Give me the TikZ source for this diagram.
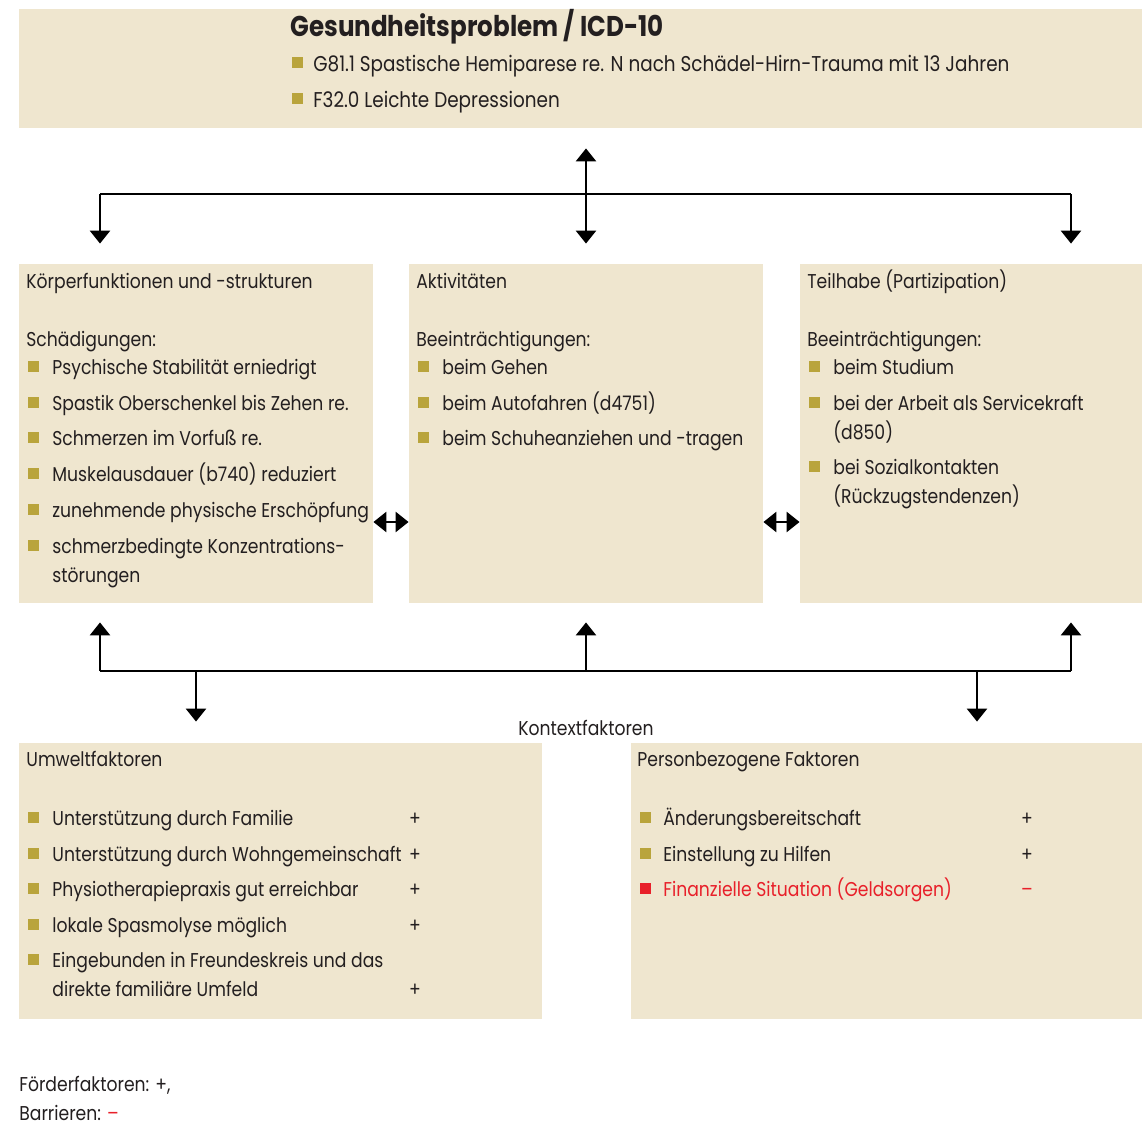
\documentclass[tikz,border=0pt]{standalone}
\usepackage{fontspec}
\setmainfont[FakeStretch=0.86]{Poppins}
\usetikzlibrary{arrows.meta}

\definecolor{boxbg}{HTML}{EFE6CF}
\definecolor{bulcol}{HTML}{B9A43C}
\definecolor{barred}{HTML}{E8202A}
\definecolor{txtcol}{HTML}{231F20}

\tikzset{
  box/.style={fill=boxbg, inner sep=0pt},
  txt/.style={anchor=base west, inner sep=0pt, text=txtcol, font=\fontsize{10}{12}\selectfont},
  bigtxt/.style={txt, font=\fontsize{10.7}{13}\selectfont},
  bsq/.style={fill=bulcol, minimum size=5.5pt, inner sep=0pt, anchor=south west},
  sign/.style={anchor=base, inner sep=0pt, text=txtcol, font=\fontsize{10}{12}\selectfont},
  arr/.style={line width=1.3pt, -{Triangle[width=10pt,length=6.5pt]}},
  arrb/.style={line width=1.3pt, {Triangle[width=10pt,length=6.5pt]}-{Triangle[width=10pt,length=6.5pt]}},
}

\begin{document}
\begin{tikzpicture}[x=0.5pt, y=-0.5pt]

\useasboundingbox (0,0) rectangle (1142,1124);

	% boxes
	\node[box, minimum width=561.5pt, minimum height=59.5pt] (gp) at (580.5,68.5) {};
	\node[box, minimum width=177pt, minimum height=169.5pt] (kf) at (196,433.5) {};
	\node[box, minimum width=177pt, minimum height=169.5pt] (akt) at (586,433.5) {};
	\node[box, minimum width=171pt, minimum height=169.5pt] (th) at (971,433.5) {};
	\node[box, minimum width=261.5pt, minimum height=138pt] (uf) at (280.5,881) {};
	\node[box, minimum width=255.5pt, minimum height=138pt] (pf) at (886.5,881) {};

	% Gesundheitsproblem
	\node[txt, font=\fontsize{14.3}{17}\bfseries] (gptitle) at (290,36) {Gesundheitsproblem / ICD-10};
	\foreach \yy/\lbl [count=\i] in {71/G81.1 Spastische Hemiparese re. N nach Schädel-Hirn-Trauma mit 13 Jahren,
		107/F32.0 Leichte Depressionen} {
		\node[bsq] (gpb\i) at (292,\yy-3) {};
		\node[bigtxt] (gpt\i) at (313,\yy) {\lbl};
	}

	% Koerperfunktionen
	\node[txt] (kfh) at (26,288) {Körperfunktionen und -strukturen};
	\node[txt] (kfs) at (26,346) {Schädigungen:};
	\foreach \yy/\lbl [count=\i] in {374/Psychische Stabilität erniedrigt,
		410/Spastik Oberschenkel bis Zehen re.,
		445/Schmerzen im Vorfuß re.,
		481/Muskelausdauer (b740) reduziert,
		517/zunehmende physische Erschöpfung,
		553/schmerzbedingte Konzentrations-} {
		\node[bsq] (kfb\i) at (28,\yy-2) {};
		\node[txt] (kft\i) at (52,\yy) {\lbl};
	}
	\node[txt] (kft7) at (52,582) {störungen};

	% Aktivitaeten
	\node[txt] (akth) at (416,288) {Aktivitäten};
	\node[txt] (akts) at (416,346) {Beeinträchtigungen:};
	\foreach \yy/\lbl [count=\i] in {374/beim Gehen,
		410/beim Autofahren (d4751),
		445/beim Schuheanziehen und -tragen} {
		\node[bsq] (aktb\i) at (418,\yy-2) {};
		\node[txt] (aktt\i) at (442,\yy) {\lbl};
	}

	% Teilhabe
	\node[txt] (thh) at (807,288) {Teilhabe (Partizipation)};
	\node[txt] (ths) at (807,346) {Beeinträchtigungen:};
	\foreach \yy/\lbl [count=\i] in {374/beim Studium,
		410/bei der Arbeit als Servicekraft,
		474/bei Sozialkontakten} {
		\node[bsq] (thb\i) at (809,\yy-2) {};
		\node[txt] (tht\i) at (833,\yy) {\lbl};
	}
	\node[txt] (tht4) at (833,439) {(d850)};
	\node[txt] (tht5) at (833,503) {(Rückzugstendenzen)};

	% Umweltfaktoren
	\node[txt] (ufh) at (26,766) {Umweltfaktoren};
	\foreach \yy/\lbl [count=\i] in {825/Unterstützung durch Familie,
		861/Unterstützung durch Wohngemeinschaft,
		896/Physiotherapiepraxis gut erreichbar,
		932/lokale Spasmolyse möglich,
		967/Eingebunden in Freundeskreis und das} {
		\node[bsq] (ufb\i) at (28,\yy-2) {};
		\node[txt] (uft\i) at (52,\yy) {\lbl};
	}
	\node[txt] (uft6) at (52,996) {direkte familiäre Umfeld};
	\foreach \yy [count=\i] in {825,861,896,932,996}
		\node[sign] (ufp\i) at (415,\yy) {+};

	% Personbezogene Faktoren
	\node[txt] (pfh) at (637,766) {Personbezogene Faktoren};
	\foreach \yy/\lbl [count=\i] in {825/Änderungsbereitschaft,
		861/Einstellung zu Hilfen} {
		\node[bsq] (pfb\i) at (640,\yy-2) {};
		\node[txt] (pft\i) at (663,\yy) {\lbl};
		\node[sign] (pfp\i) at (1027,\yy) {+};
	}
	\node[bsq, fill=barred] (pfb3) at (640,894) {};
	\node[txt, text=barred] (pft3) at (663,896) {Finanzielle Situation (Geldsorgen)};
	\node[sign, text=barred] (pfm3) at (1027,896) {–};

	\node[sign] (kontext) at (586,735) {Kontextfaktoren};

	% Legende
	\node[txt] (lg1) at (19,1091) {Förderfaktoren: +,};
	\node[txt] (lg2) at (19,1120) {Barrieren: \textcolor{barred}{–}};

	% upper connectors
	\coordinate (ol) at (kf.north -| 100,0);
	\coordinate (or) at (th.north -| 1071,0);
	\coordinate (oj1) at (100,194);
	\coordinate (oj2) at (1071,194);
	\draw[line width=1.3pt] (oj1) -- (oj2);
	\draw[arr] (oj1) -- ([yshift=10pt]ol);
	\draw[arr] (oj2) -- ([yshift=10pt]or);
	\draw[arrb] ([yshift=-10pt]gp.south -| akt.north) -- ([yshift=10pt]akt.north);

	% between the boxes
	\draw[arrb] (kf.east |- 0,522) -- (akt.west |- 0,522);
	\draw[arrb] (akt.east |- 0,522) -- (th.west |- 0,522);

	% lower connectors
	\coordinate (uj1) at (100,671);
	\coordinate (uj2) at (1071,671);
	\coordinate (uj3) at (586,671);
	\draw[line width=1.3pt] (uj1) -- (uj2);
	\draw[arr] (uj1) -- ([yshift=-9.5pt]kf.south -| uj1);
	\draw[arr] (uj3) -- ([yshift=-9.5pt]akt.south);
	\draw[arr] (uj2) -- ([yshift=-9.5pt]th.south -| uj2);
	\draw[arr] (196,671) -- ([yshift=10.5pt]uf.north -| 196,0);
	\draw[arr] (977,671) -- ([yshift=10.5pt]pf.north -| 977,0);

\end{tikzpicture}
\end{document}
